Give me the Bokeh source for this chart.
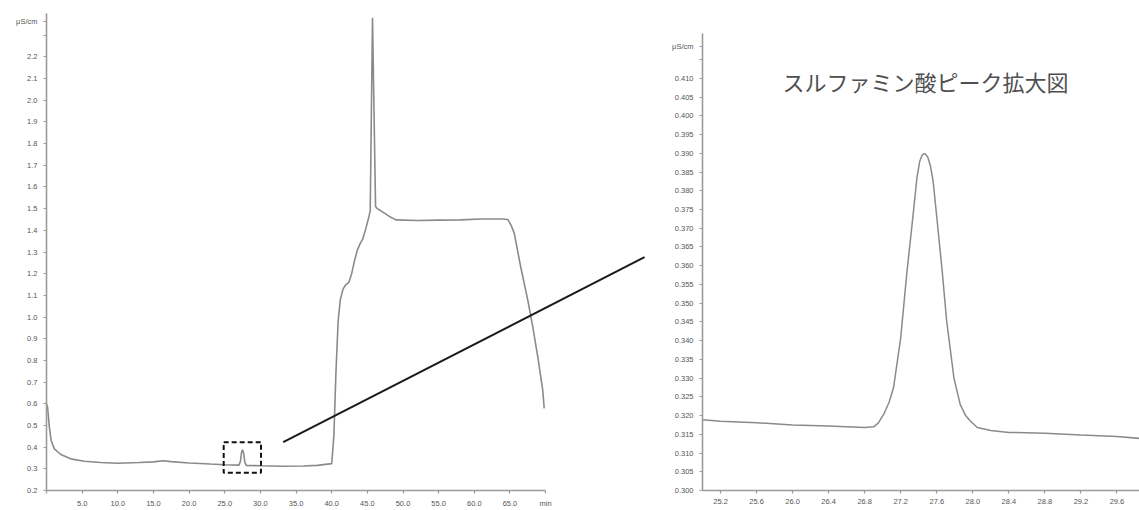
from bokeh.plotting import figure
from bokeh.layouts import row
from bokeh.models import Range1d, FixedTicker, NumeralTickFormatter, Label
from bokeh.embed import file_html
from bokeh.resources import INLINE

# ---- full chromatogram (min, uS/cm) ----
full_time = [0.0, 0.15, 0.4, 0.65, 1.1, 2.0, 3.4, 5.3, 7.6, 10.0, 13.0, 15.0, 16.3, 17.5,
             20.0, 23.0, 25.0, 27.0, 27.2, 27.35, 27.5, 27.65, 27.8, 28.0, 30.0, 33.0,
             36.0, 38.0, 40.0, 40.3, 40.6, 40.9, 41.2, 41.6, 42.0, 42.4, 42.8, 43.2, 43.6,
             44.0, 44.35, 44.8, 45.2, 45.4, 45.72, 46.15, 46.4, 46.9, 47.6, 48.3, 49.0,
             52.0, 55.0, 58.0, 61.0, 64.0, 64.7, 65.2, 65.6, 66.5, 67.5, 68.2, 68.9, 69.6, 69.8]
full_cond = [0.60, 0.584, 0.492, 0.431, 0.392, 0.366, 0.346, 0.335, 0.329, 0.326, 0.329, 0.332, 0.337, 0.333,
             0.327, 0.322, 0.319, 0.317, 0.335, 0.375, 0.388, 0.372, 0.333, 0.316, 0.314, 0.312,
             0.313, 0.316, 0.324, 0.45, 0.75, 0.98, 1.08, 1.13, 1.15, 1.16, 1.20, 1.26, 1.31,
             1.34, 1.36, 1.41, 1.46, 1.49, 2.38, 1.51, 1.50, 1.49, 1.475, 1.46, 1.448,
             1.445, 1.447, 1.448, 1.452, 1.452, 1.45, 1.42, 1.387, 1.232, 1.078, 0.955, 0.816, 0.662, 0.579]

# ---- enlarged sulfamic acid peak ----
zoom_time = [25.0, 25.2, 25.6, 26.0, 26.4, 26.8, 26.9, 26.95, 27.01, 27.07, 27.12, 27.2, 27.27, 27.33,
             27.38, 27.41, 27.44, 27.47, 27.5, 27.53, 27.56, 27.6, 27.66, 27.71, 27.79, 27.86, 27.92,
             27.97, 28.05, 28.2, 28.4, 28.8, 29.2, 29.6, 29.85]
zoom_cond = [0.3189, 0.3185, 0.3181, 0.3175, 0.3172, 0.3168, 0.3170, 0.3180, 0.3203, 0.3235, 0.3274, 0.3408,
             0.3586, 0.3719, 0.3835, 0.3878, 0.3896, 0.3899, 0.3890, 0.3866, 0.3825, 0.3730, 0.3586, 0.3452,
             0.3301, 0.3230, 0.3200, 0.3186, 0.3168, 0.3160, 0.3155, 0.3153, 0.3148, 0.3144, 0.3139]

unit_text = "μS/cm"
full_xticks = [0, 5, 10, 15, 20, 25, 30, 35, 40, 45, 50, 55, 60, 65, 70]
full_xlabels = {0: "", 70: "min"}
full_yticks = [0.2, 0.3, 0.4, 0.5, 0.6, 0.7, 0.8, 0.9, 1.0, 1.1, 1.2, 1.3, 1.4, 1.5, 1.6, 1.7,
               1.8, 1.9, 2.0, 2.1, 2.2, 2.3, 2.365]
full_ylabels = {2.3: "", 2.365: unit_text}
zoom_xticks = [25.2, 25.6, 26.0, 26.4, 26.8, 27.2, 27.6, 28.0, 28.4, 28.8, 29.2, 29.6]
zoom_yticks = [0.300, 0.305, 0.310, 0.315, 0.320, 0.325, 0.330, 0.335, 0.340, 0.345, 0.350,
               0.355, 0.360, 0.365, 0.370, 0.375, 0.380, 0.385, 0.390, 0.395, 0.400, 0.405,
               0.410, 0.415, 0.4185]
zoom_ylabels = {0.415: "", 0.4185: unit_text}

# highlighted region (dashed box) and connector, in full-chart coordinates
box_x = [24.85, 30.08]
box_y = [0.282, 0.423]
link_x = [33.2, 83.87]
link_y = [0.423, 1.276]

title_text = "スルファミン酸ピーク拡大図"

TRACE = "#8a8a8a"
AXIS = "#9a9a9a"
LABEL = "#555555"
FONT = "Liberation Sans"


def style(p):
    p.grid.visible = False
    p.outline_line_color = None
    p.background_fill_color = "white"
    p.border_fill_color = "white"
    for ax in (p.xaxis[0], p.yaxis[0]):
        ax.axis_line_color = AXIS
        ax.axis_line_width = 1.6
        ax.major_tick_line_color = AXIS
        ax.major_tick_line_width = 1.2
        ax.major_tick_out = 3
        ax.major_tick_in = 0
        ax.minor_tick_line_color = None
        ax.major_label_text_font = FONT
        ax.major_label_text_font_size = "7.5px"
        ax.major_label_text_color = LABEL
    p.xaxis.major_label_standoff = 5
    p.yaxis.major_label_standoff = 6


# ---------------- left: full chromatogram ----------------
p1 = figure(width=653, height=510, x_range=Range1d(0, 85.13), y_range=Range1d(0.2, 2.4),
            output_backend="svg", toolbar_location=None,
            min_border_left=46, min_border_right=0, min_border_top=13, min_border_bottom=20)
style(p1)
p1.xaxis.bounds = (0, 70)
p1.xaxis.ticker = FixedTicker(ticks=full_xticks)
p1.xaxis.formatter = NumeralTickFormatter(format="0.0")
p1.xaxis.major_label_overrides = full_xlabels
p1.yaxis.ticker = FixedTicker(ticks=full_yticks)
p1.yaxis.formatter = NumeralTickFormatter(format="0.0")
p1.yaxis.major_label_overrides = full_ylabels

p1.line(full_time, full_cond, line_color=TRACE, line_width=1.6)
p1.quad(left=[box_x[0]], right=[box_x[1]], bottom=[box_y[0]], top=[box_y[1]],
        fill_alpha=0, line_color="#111111", line_width=2, line_dash="5 3")
p1.line(link_x, link_y, line_color="#1a1a1a", line_width=2)

# ---------------- right: enlarged peak ----------------
p2 = figure(width=486, height=510, x_range=Range1d(25.0, 29.85), y_range=Range1d(0.300, 0.4273),
            output_backend="svg", toolbar_location=None,
            min_border_left=49, min_border_right=0, min_border_top=13, min_border_bottom=20)
style(p2)
p2.yaxis.bounds = (0.300, 0.4219)
p2.xaxis.ticker = FixedTicker(ticks=zoom_xticks)
p2.xaxis.formatter = NumeralTickFormatter(format="0.0")
p2.yaxis.ticker = FixedTicker(ticks=zoom_yticks)
p2.yaxis.formatter = NumeralTickFormatter(format="0.000")
p2.yaxis.major_label_overrides = zoom_ylabels

p2.line(zoom_time, zoom_cond, line_color=TRACE, line_width=1.5)

p2.add_layout(Label(x=25.887, y=0.4093, text=title_text, text_align="left",
                    text_baseline="middle", text_font="Noto Sans CJK JP",
                    text_font_size="22px", text_color="#505050"))

layout = row(p1, p2)
open("out.html", "w").write(file_html(layout, INLINE))
